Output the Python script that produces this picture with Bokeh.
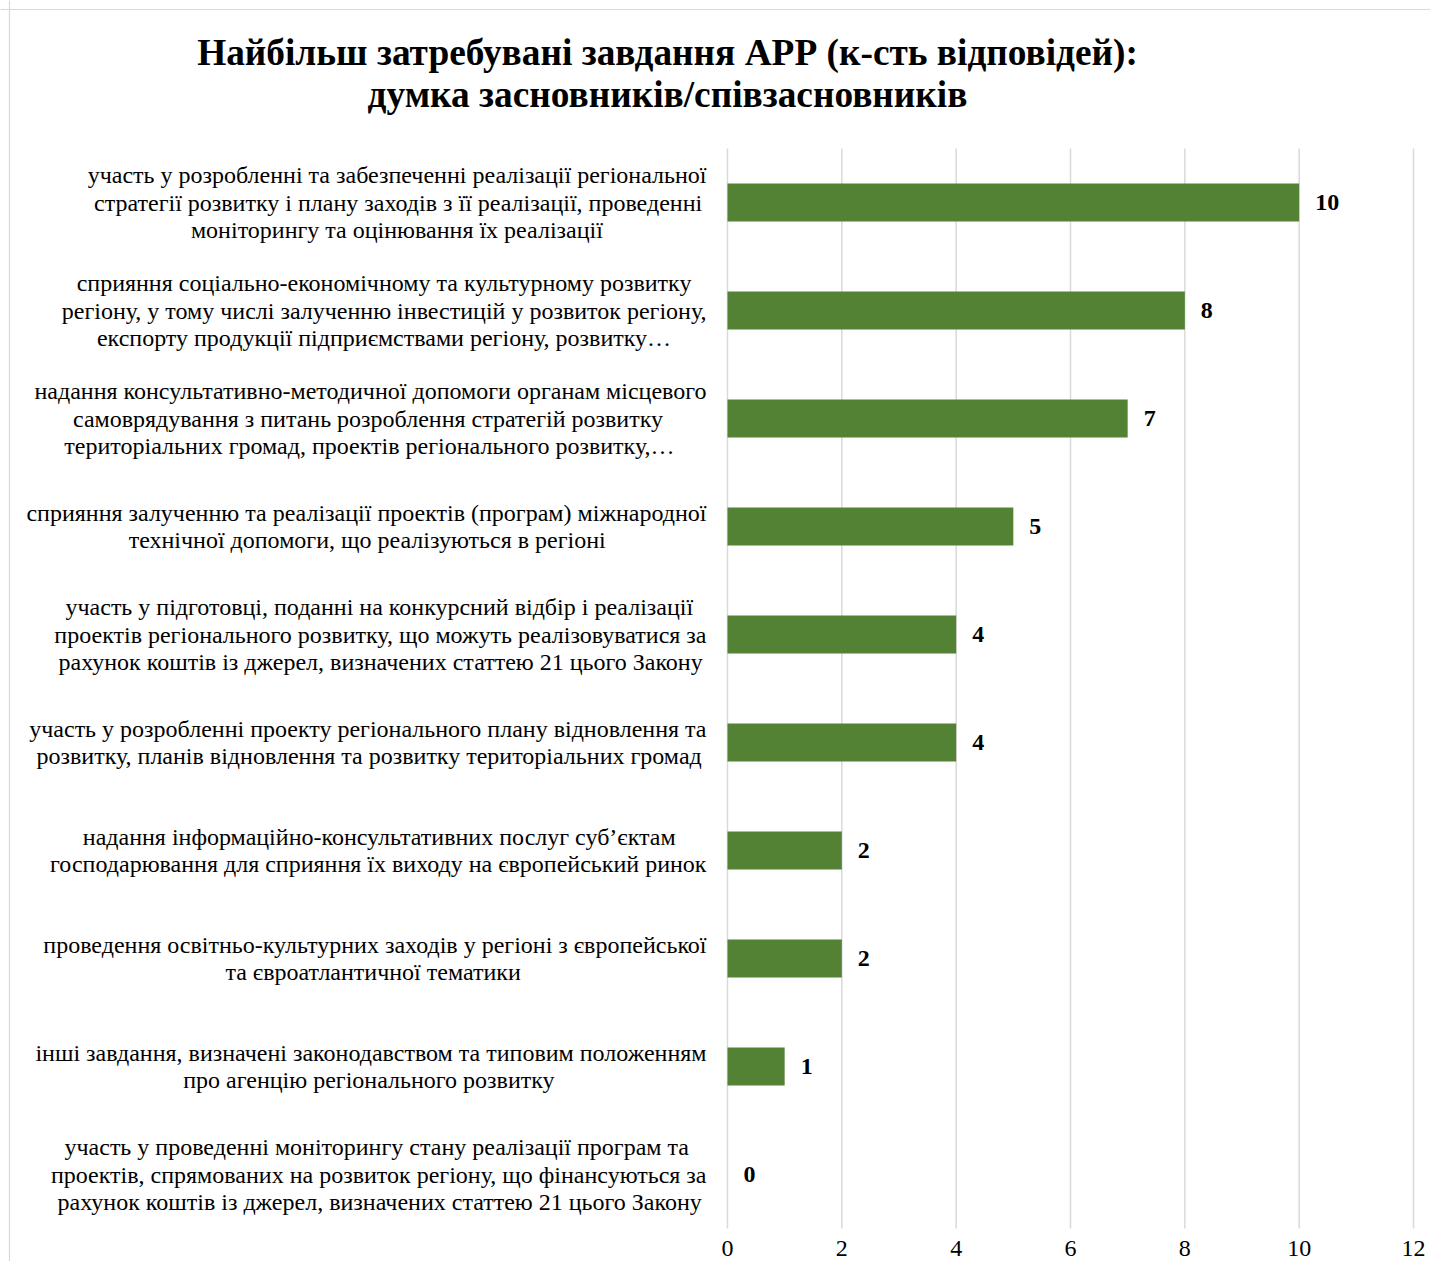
import glob
import struct

from bokeh.core.properties import value
from bokeh.embed import file_html
from bokeh.models import ColumnDataSource, Range1d, Span
from bokeh.plotting import figure
from bokeh.resources import INLINE

# ---------------- data ----------------
title_lines = [
    "Найбільш затребувані завдання АРР (к-сть відповідей):",
    "думка засновників/співзасновників",
]

tasks = [
    "участь у розробленні та забезпеченні реалізації регіональної\n"
    "стратегії розвитку і плану заходів з її реалізації, проведенні\n"
    "моніторингу та оцінювання їх реалізації",
    "сприяння соціально-економічному та культурному розвитку\n"
    "регіону, у тому числі залученню інвестицій у розвиток регіону,\n"
    "експорту продукції підприємствами регіону, розвитку…",
    "надання консультативно-методичної допомоги органам місцевого\n"
    "самоврядування з питань розроблення стратегій розвитку\n"
    "територіальних громад, проектів регіонального розвитку,…",
    "сприяння залученню та реалізації проектів (програм) міжнародної\n"
    "технічної допомоги, що реалізуються в регіоні",
    "участь у підготовці, поданні на конкурсний відбір і реалізації\n"
    "проектів регіонального розвитку, що можуть реалізовуватися за\n"
    "рахунок коштів із джерел, визначених статтею 21 цього Закону",
    "участь у розробленні проекту регіонального плану відновлення та\n"
    "розвитку, планів відновлення та розвитку територіальних громад",
    "надання інформаційно-консультативних послуг суб’єктам\n"
    "господарювання для сприяння їх виходу на європейський ринок",
    "проведення освітньо-культурних заходів у регіоні з європейської\n"
    "та євроатлантичної тематики",
    "інші завдання, визначені законодавством та типовим положенням\n"
    "про агенцію регіонального розвитку",
    "участь у проведенні моніторингу стану реалізації програм та\n"
    "проектів, спрямованих на розвиток регіону, що фінансуються за\n"
    "рахунок коштів із джерел, визначених статтею 21 цього Закону",
]

counts = [10, 8, 7, 5, 4, 4, 2, 2, 1, 0]

x_ticks = [0, 2, 4, 6, 8, 10, 12]

# ---------------- layout / styling ----------------
FONT = "Liberation Serif"
LABEL_SIZE = 24.0
LINE_STEP = 27.5          # px between label lines
BAR_COLOR = "#548235"
GRID_COLOR = "#d9d9d9"

W, H = 1430, 1261
PLOT_LEFT, PLOT_RIGHT = 727, 1413     # px of x = 0 and x = 12
PLOT_TOP, PLOT_BOTTOM = 148, 1228     # px of category band top / bottom
X_MAX = 12
N = len(tasks)
PXX = (PLOT_RIGHT - PLOT_LEFT) / X_MAX          # px per x unit
PXY = (PLOT_BOTTOM - PLOT_TOP) / N              # px per category


def px_to_y(py):
    return (PLOT_BOTTOM - py) / PXY


def px_to_x(px):
    return (px - PLOT_LEFT) / PXX


def make_measurer():
    """Text width measurement from the TTF advance widths (for centring lines)."""
    paths = glob.glob("/usr/share/fonts/**/LiberationSerif-Regular.ttf", recursive=True)
    if not paths:
        return lambda s, size: len(s) * 0.45 * size
    data = open(paths[0], "rb").read()
    num_tables = struct.unpack(">H", data[4:6])[0]
    tables = {}
    for i in range(num_tables):
        tag, _cs, off, ln = struct.unpack(">4sIII", data[12 + 16 * i:28 + 16 * i])
        tables[tag.decode("latin1")] = (off, ln)
    head = tables["head"][0]
    upem = struct.unpack(">H", data[head + 18:head + 20])[0]
    hhea = tables["hhea"][0]
    nhm = struct.unpack(">H", data[hhea + 34:hhea + 36])[0]
    hmtx = tables["hmtx"][0]
    adv = [struct.unpack(">H", data[hmtx + 4 * i:hmtx + 4 * i + 2])[0] for i in range(nhm)]
    cmap = tables["cmap"][0]
    n = struct.unpack(">H", data[cmap + 2:cmap + 4])[0]
    sub = None
    for i in range(n):
        pid, _eid, off = struct.unpack(">HHI", data[cmap + 4 + 8 * i:cmap + 12 + 8 * i])
        fmt = struct.unpack(">H", data[cmap + off:cmap + off + 2])[0]
        if fmt == 4 and pid in (0, 3):
            sub = cmap + off
            break
    if sub is None:
        return lambda s, size: len(s) * 0.45 * size
    seg_x2 = struct.unpack(">H", data[sub + 6:sub + 8])[0]
    seg = seg_x2 // 2
    ends = struct.unpack(">%dH" % seg, data[sub + 14:sub + 14 + seg_x2])
    st_off = sub + 16 + seg_x2
    starts = struct.unpack(">%dH" % seg, data[st_off:st_off + seg_x2])
    d_off = st_off + seg_x2
    deltas = struct.unpack(">%dh" % seg, data[d_off:d_off + seg_x2])
    r_off = d_off + seg_x2
    ros = struct.unpack(">%dH" % seg, data[r_off:r_off + seg_x2])

    def gid(c):
        for k in range(seg):
            if ends[k] >= c:
                if starts[k] > c:
                    return 0
                if ros[k] == 0:
                    return (c + deltas[k]) & 0xFFFF
                addr = r_off + 2 * k + ros[k] + 2 * (c - starts[k])
                g = struct.unpack(">H", data[addr:addr + 2])[0]
                return (g + deltas[k]) & 0xFFFF if g else 0
        return 0

    def width(s, size):
        tot = 0
        for ch in s:
            g = gid(ord(ch))
            tot += adv[min(g, nhm - 1)]
        return tot * size / upem

    return width


try:
    measure = make_measurer()
except Exception:
    measure = lambda s, size: len(s) * 0.45 * size

# ---------------- figure ----------------
p = figure(
    width=W,
    height=H,
    x_range=Range1d(px_to_x(0), px_to_x(W)),
    y_range=Range1d(px_to_y(H), px_to_y(0)),
    x_axis_location=None,
    y_axis_location=None,
    title=None,
    output_backend="svg",
    toolbar_location=None,
)
p.min_border = 0
p.outline_line_color = None
p.grid.visible = False
p.background_fill_color = "white"
p.border_fill_color = "white"

# chart-area border (left / top)
p.add_layout(Span(location=px_to_x(9), dimension="height", line_color=GRID_COLOR, line_width=1.2))
p.add_layout(Span(location=px_to_y(9), dimension="width", line_color=GRID_COLOR, line_width=1.2))

# vertical gridlines at the x ticks
p.segment(x0=x_ticks, x1=x_ticks, y0=0, y1=N, line_color=GRID_COLOR, line_width=1.5)

# bars
pos = [N - i - 0.5 for i in range(N)]
src = ColumnDataSource(dict(pos=pos, count=counts, lbl=[str(c) for c in counts]))
p.hbar(y="pos", right="count", left=0, height=0.352, color=BAR_COLOR, line_color=None, source=src)

# value labels
p.text(x="count", y="pos", text="lbl", source=src, x_offset=16,
       text_font=value(FONT), text_font_size="24px", text_font_style="bold",
       text_baseline="middle", text_align="left", text_color="black")

# category labels (block right-aligned, lines centred within the block)
rows = dict(x=[], y=[], t=[], xo=[])
for task, yc in zip(tasks, pos):
    lines = task.split("\n")
    widths = [measure(ln, LABEL_SIZE) for ln in lines]
    wmax = max(widths)
    nl = len(lines)
    for j, (ln, w) in enumerate(zip(lines, widths)):
        rows["x"].append(0)
        rows["y"].append(yc + ((nl - 1) / 2.0 - j) * LINE_STEP / PXY)
        rows["t"].append(ln)
        rows["xo"].append(-21 - (wmax - w) / 2.0)
p.text(x="x", y="y", text="t", x_offset="xo", source=ColumnDataSource(rows),
       text_font=value(FONT), text_font_size="24px",
       text_baseline="middle", text_align="right", text_color="black")

# x tick labels
p.text(x=x_ticks, y=[px_to_y(1248)] * len(x_ticks), text=[str(t) for t in x_ticks],
       text_font=value(FONT), text_font_size="24px",
       text_baseline="middle", text_align="center", text_color="black")

# title
p.text(x=[px_to_x(667)] * 2, y=[px_to_y(51.5), px_to_y(93.5)], text=title_lines,
       text_font=value(FONT), text_font_size="37.33px", text_font_style="bold",
       text_baseline="middle", text_align="center", text_color="black")

open("out.html", "w").write(file_html(p, INLINE))
